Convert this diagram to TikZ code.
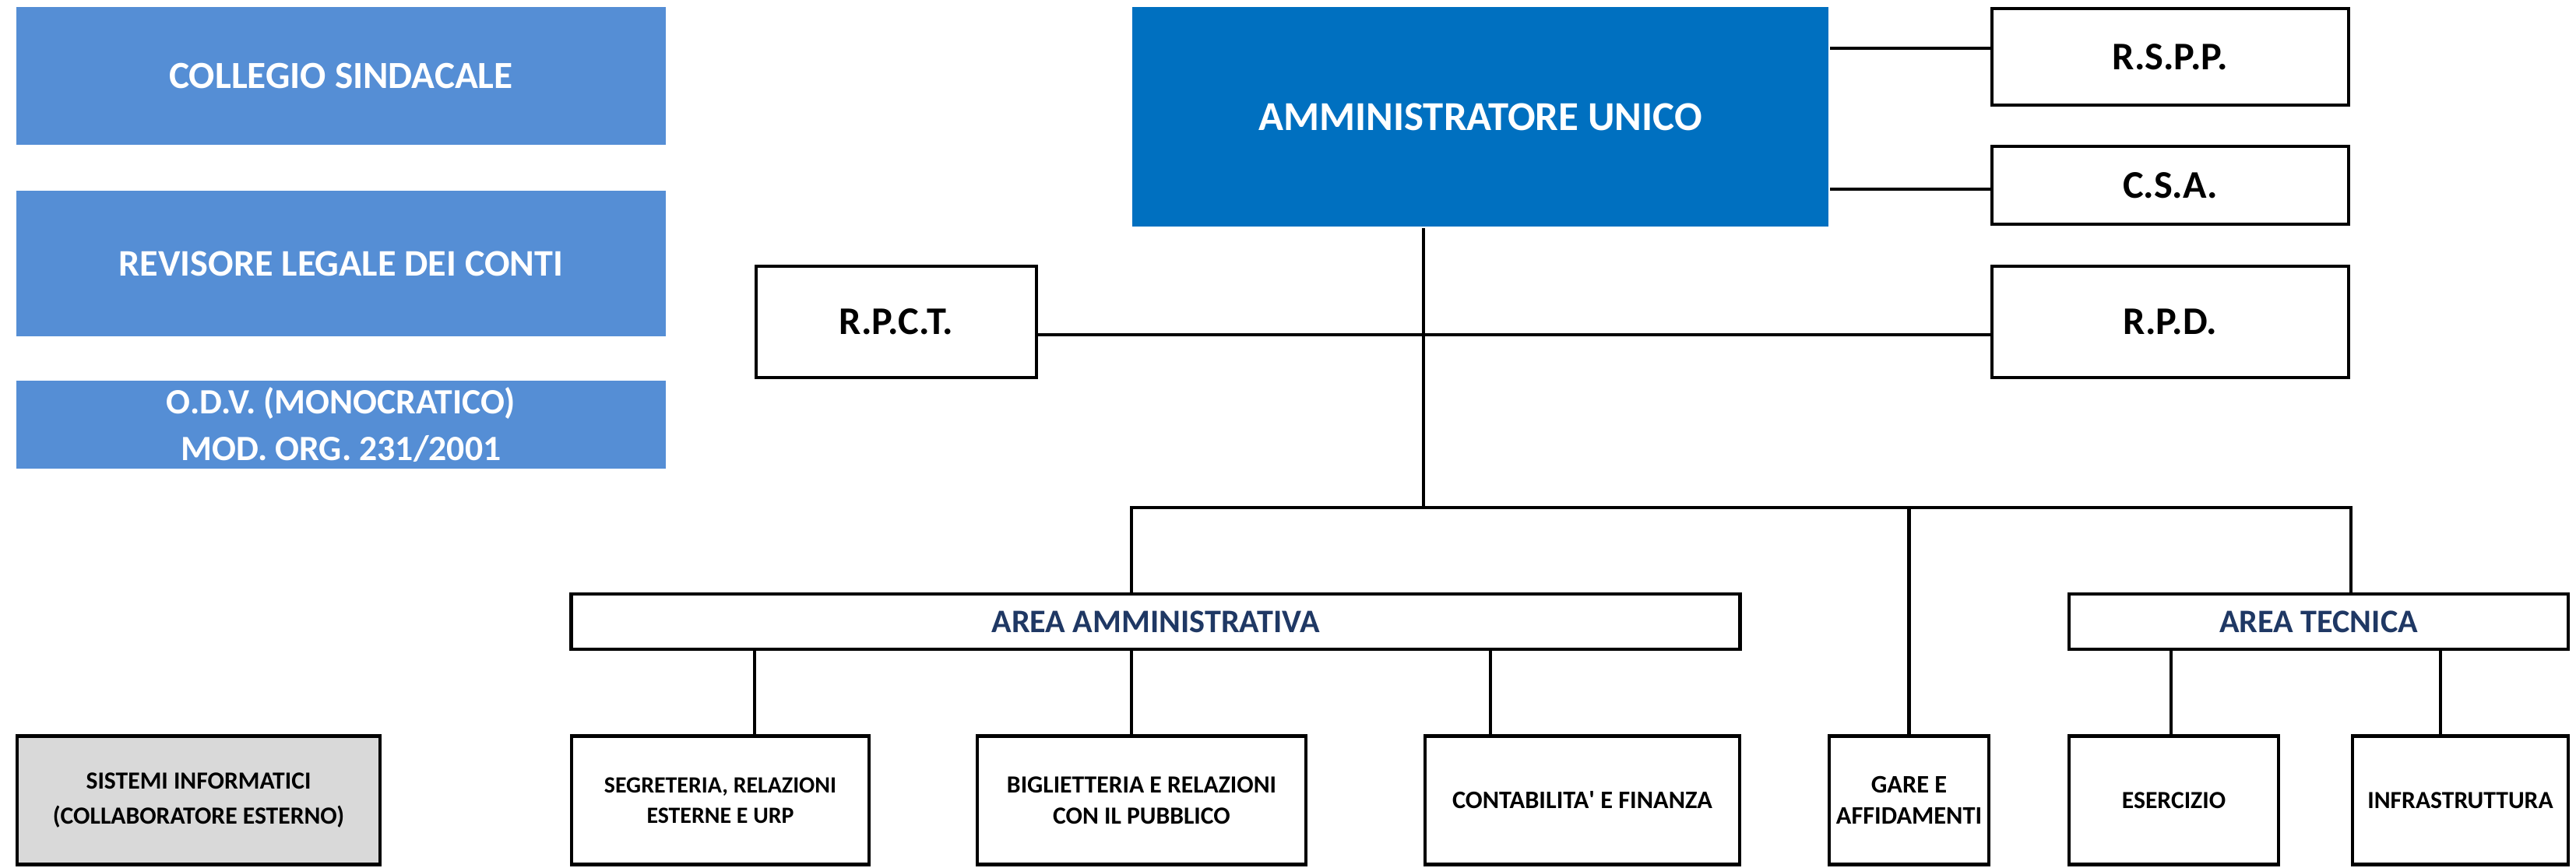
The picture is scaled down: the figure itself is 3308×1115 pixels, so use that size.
\documentclass[tikz,border=0pt]{standalone}
\usepackage{fontspec}
\setmainfont{Carlito}
\definecolor{organoblue}{HTML}{558ED5}
\definecolor{aublue}{HTML}{0070C0}
\definecolor{areablue}{HTML}{1F3864}
\definecolor{sysgray}{HTML}{D9D9D9}

\begin{document}
\begin{tikzpicture}[x=0.01cm, y=-0.01cm, line width=1.2pt,
  organo/.style={fill=organoblue, text=white, inner sep=0pt, align=center, minimum width=8.34cm, font=\bfseries\fontsize{14}{17}\selectfont},
  ruolo/.style={draw, fill=white, inner sep=0pt, align=center, font=\bfseries\fontsize{14.3}{17}\selectfont},
  area/.style={draw, fill=white, inner sep=0pt, minimum height=0.71cm, text=areablue, font=\bfseries\fontsize{12}{14}\selectfont},
  ufficio/.style={draw, fill=white, inner sep=0pt, align=center, minimum height=1.65cm, font=\bfseries\fontsize{8.5}{11}\selectfont}]
\useasboundingbox (0,0) rectangle (3308,1115);

\node [organo, minimum height=1.77cm] (coll) at (438,97.5) {COLLEGIO SINDACALE};
\node [organo, minimum height=1.87cm, font=\bfseries\fontsize{13.7}{17}\selectfont] (rev) at (438,338.5) {REVISORE LEGALE DEI CONTI};
\node [organo, minimum height=1.13cm, font=\bfseries\fontsize{13}{17}\selectfont] (odv) at (438,545.5) {O.D.V. (MONOCRATICO)\\MOD. ORG. 231/2001};

\node [fill=aublue, text=white, minimum width=8.94cm, minimum height=2.82cm, font=\bfseries\fontsize{15}{18}\selectfont] (au) at (1901,150) {AMMINISTRATORE UNICO};
\node [ruolo, minimum width=4.58cm, minimum height=1.24cm] (rspp) at (2787,73) {R.S.P.P.};
\node [ruolo, minimum width=4.58cm, minimum height=1.00cm] (csa) at (2787,238) {C.S.A.};
\node [ruolo, minimum width=3.60cm, minimum height=1.43cm] (rpct) at (1151,413.5) {R.P.C.T.};
\node [ruolo, minimum width=4.58cm, minimum height=1.43cm] (rpd) at (2787,413.5) {R.P.D.};

\node [area, minimum width=15.00cm] (aa) at (1484,798.5) {AREA AMMINISTRATIVA};
\node [area, minimum width=6.41cm] (at) at (2977.5,798.5) {AREA TECNICA};

\node [ufficio, minimum width=4.66cm, fill=sysgray, font=\bfseries\fontsize{9}{13}\selectfont] (sist) at (255,1028) {SISTEMI INFORMATICI\\(COLLABORATORE ESTERNO)};
\node [ufficio, minimum width=3.82cm] (segr) at (925,1028) {SEGRETERIA, RELAZIONI\\ESTERNE E URP};
\node [ufficio, minimum width=4.22cm, font=\bfseries\fontsize{9}{11.5}\selectfont] (bigl) at (1466,1028) {BIGLIETTERIA E RELAZIONI\\CON IL PUBBLICO};
\node [ufficio, minimum width=4.04cm, font=\bfseries\fontsize{9.2}{11}\selectfont] (cont) at (2032,1028) {CONTABILITA\textquotesingle{} E FINANZA};
\node [ufficio, minimum width=2.05cm, font=\bfseries\fontsize{9.2}{11.5}\selectfont] (gare) at (2451.5,1028) {GARE E\\AFFIDAMENTI};
\node [ufficio, minimum width=2.69cm, font=\bfseries\fontsize{9}{11}\selectfont] (eser) at (2791.5,1028) {ESERCIZIO};
\node [ufficio, minimum width=2.77cm, font=\bfseries\fontsize{9}{11}\selectfont] (infra) at (3159.5,1028) {INFRASTRUTTURA};

\coordinate (bus) at (1828,652);
\coordinate (busL) at (1453,652);
\coordinate (busR) at (3019,652);

\draw (au.east |- 0,62) -- (rspp.west |- 0,62);
\draw (au.east |- 0,243) -- (csa.west |- 0,243);
\draw (rpct.east |- 0,430) -- (rpd.west |- 0,430);
\draw (au.south -| bus) -- (bus);
\draw (aa.north -| busL) -- (busL) -- (busR) -- (at.north -| busR);
\draw (gare.north) -- (gare.north |- bus);

\draw (aa.south -| 969,0) -- (segr.north -| 969,0);
\draw (aa.south -| 1453,0) -- (bigl.north -| 1453,0);
\draw (aa.south -| 1914,0) -- (cont.north -| 1914,0);
\draw (at.south -| 2788,0) -- (eser.north -| 2788,0);
\draw (at.south -| 3134,0) -- (infra.north -| 3134,0);
\end{tikzpicture}
\end{document}
